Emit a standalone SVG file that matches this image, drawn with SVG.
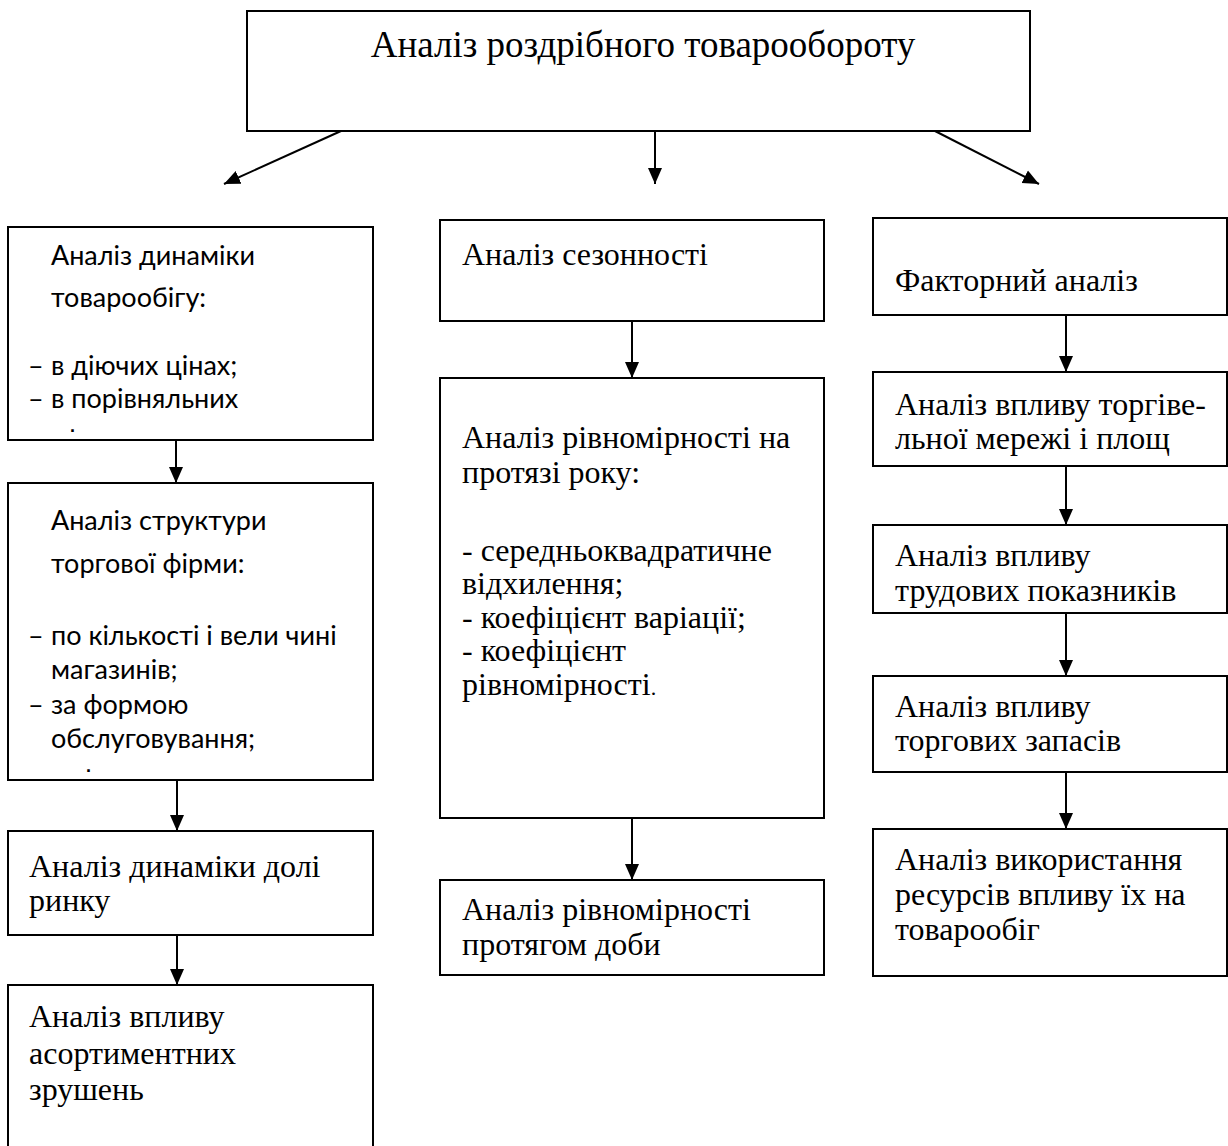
<svg xmlns="http://www.w3.org/2000/svg" width="1228" height="1146" viewBox="0 0 1228 1146">
<style>
.box{fill:#fff;stroke:#000;stroke-width:2}
.s{font-family:"Liberation Serif","Times New Roman",serif;font-size:32px;fill:#000}
.c{font-family:Lato,"Open Sans",sans-serif;font-size:27px;fill:#000}
.d{font-family:"Liberation Sans",Arial,sans-serif;font-size:18px;font-weight:bold;fill:#000}
.t{font-family:"Liberation Serif","Times New Roman",serif;font-size:37px;fill:#000}
.ln{stroke:#000;stroke-width:2;fill:none}
</style>
<defs>
<marker id="a" viewBox="0 0 16 16" refX="16" refY="8" markerWidth="16" markerHeight="16" markerUnits="userSpaceOnUse" orient="auto">
<path d="M0,1 L16,8 L0,15 Z" fill="#000"/>
</marker>
</defs>
<rect width="1228" height="1146" fill="#fff"/>
<g id="connectors">
<line class="ln" x1="341" y1="131" x2="224" y2="184" marker-end="url(#a)"/>
<line class="ln" x1="655" y1="131" x2="655" y2="184" marker-end="url(#a)"/>
<line class="ln" x1="935" y1="131" x2="1039" y2="184" marker-end="url(#a)"/>
<line class="ln" x1="176" y1="440" x2="176" y2="483" marker-end="url(#a)"/>
<line class="ln" x1="177" y1="780" x2="177" y2="831" marker-end="url(#a)"/>
<line class="ln" x1="177" y1="935" x2="177" y2="985" marker-end="url(#a)"/>
<line class="ln" x1="632" y1="321" x2="632" y2="378" marker-end="url(#a)"/>
<line class="ln" x1="632" y1="818" x2="632" y2="880" marker-end="url(#a)"/>
<line class="ln" x1="1066" y1="315" x2="1066" y2="372" marker-end="url(#a)"/>
<line class="ln" x1="1066" y1="466" x2="1066" y2="525" marker-end="url(#a)"/>
<line class="ln" x1="1066" y1="613" x2="1066" y2="676" marker-end="url(#a)"/>
<line class="ln" x1="1066" y1="772" x2="1066" y2="829" marker-end="url(#a)"/>
</g>
<g id="root">
<rect class="box" x="247" y="11" width="783" height="120"/>
<text class="t" x="643" y="57" text-anchor="middle">Аналіз роздрібного товарообороту</text>
</g>
<g id="n-dynamics">
<rect class="box" x="8" y="227" width="365" height="213"/>
<text class="c" x="51" y="265">Аналіз динаміки</text>
<text class="c" x="51" y="307">товарообігу:</text>
<text class="c" x="28" y="375">–</text><text class="c" x="51" y="375">в діючих цінах;</text>
<text class="c" x="28" y="408">–</text><text class="c" x="51" y="408">в порівняльних</text>
<text class="d" x="70" y="432">.</text>
</g>
<g id="n-structure">
<rect class="box" x="8" y="483" width="365" height="297"/>
<text class="c" x="51" y="530">Аналіз структури</text>
<text class="c" x="51" y="573">торгової фірми:</text>
<text class="c" x="28" y="645">–</text><text class="c" x="51" y="645">по кількості і вели чині</text>
<text class="c" x="51" y="679">магазинів;</text>
<text class="c" x="28" y="714">–</text><text class="c" x="51" y="714">за формою</text>
<text class="c" x="51" y="748">обслуговування;</text>
<text class="d" x="86" y="772">.</text>
</g>
<g id="n-share">
<rect class="box" x="8" y="831" width="365" height="104"/>
<text class="s" x="29" y="877">Аналіз динаміки долі</text>
<text class="s" x="29" y="911">ринку</text>
</g>
<g id="n-assortment">
<rect class="box" x="8" y="985" width="365" height="165"/>
<text class="s" x="29" y="1027">Аналіз впливу</text>
<text class="s" x="29" y="1064">асортиментних</text>
<text class="s" x="29" y="1100">зрушень</text>
</g>
<g id="n-season">
<rect class="box" x="440" y="220" width="384" height="101"/>
<text class="s" x="462" y="265">Аналіз сезонності</text>
</g>
<g id="n-year">
<rect class="box" x="440" y="378" width="384" height="440"/>
<text class="s" x="462" y="448">Аналіз рівномірності на</text>
<text class="s" x="462" y="483">протязі року:</text>
<text class="s" x="462" y="561">- середньоквадратичне</text>
<text class="s" x="462" y="594">відхилення;</text>
<text class="s" x="462" y="628">- коефіцієнт варіації;</text>
<text class="s" x="462" y="661">- коефіцієнт</text>
<text class="s" x="462" y="695">рівномірності<tspan font-size="22px">.</tspan></text>
</g>
<g id="n-day">
<rect class="box" x="440" y="880" width="384" height="95"/>
<text class="s" x="462" y="920">Аналіз рівномірності</text>
<text class="s" x="462" y="955">протягом доби</text>
</g>
<g id="n-factor">
<rect class="box" x="873" y="218" width="354" height="97"/>
<text class="s" x="895" y="291">Факторний аналіз</text>
</g>
<g id="n-network">
<rect class="box" x="873" y="372" width="354" height="94"/>
<text class="s" x="895" y="415">Аналіз впливу торгіве-</text>
<text class="s" x="895" y="449">льної мережі і площ</text>
</g>
<g id="n-labour">
<rect class="box" x="873" y="525" width="354" height="88"/>
<text class="s" x="895" y="566">Аналіз впливу</text>
<text class="s" x="895" y="601">трудових показників</text>
</g>
<g id="n-stock">
<rect class="box" x="873" y="676" width="354" height="96"/>
<text class="s" x="895" y="717">Аналіз впливу</text>
<text class="s" x="895" y="751">торгових запасів</text>
</g>
<g id="n-resources">
<rect class="box" x="873" y="829" width="354" height="147"/>
<text class="s" x="895" y="870">Аналіз використання</text>
<text class="s" x="895" y="905">ресурсів впливу їх на</text>
<text class="s" x="895" y="940">товарообіг</text>
</g>
</svg>
